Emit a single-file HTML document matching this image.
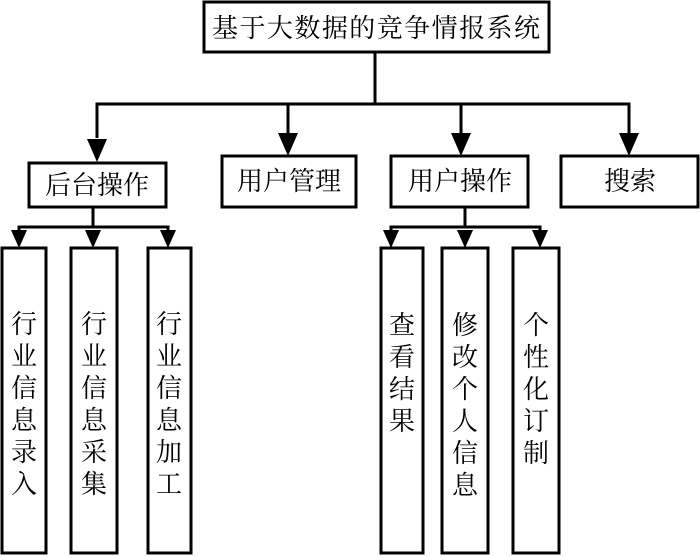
<!DOCTYPE html>
<html><head><meta charset="utf-8"><style>
html,body{margin:0;padding:0;background:#fff;}
svg{display:block}
text{font-family:"Liberation Serif","Noto Serif CJK SC",serif;font-size:26px;fill:#000;}
</style></head><body>
<svg width="700" height="556" viewBox="0 0 700 556" xmlns="http://www.w3.org/2000/svg">
<g fill="none" stroke="#000" stroke-width="3">
<rect x="204" y="2" width="345" height="50"/>
<line x1="375" y1="52" x2="375" y2="104"/>
<polyline points="97,138 97,104 629,104 629,134"/>
<line x1="288" y1="104" x2="288" y2="134"/>
<line x1="461" y1="104" x2="461" y2="134"/>
<rect x="29" y="163" width="137" height="44"/>
<rect x="222" y="156" width="134" height="51"/>
<rect x="391" y="156" width="137" height="51"/>
<rect x="561" y="156" width="137" height="51"/>
<line x1="93" y1="207" x2="93" y2="227"/>
<polyline points="19,232 19,227 168,227 168,232"/>
<line x1="465" y1="207" x2="465" y2="227"/>
<polyline points="391,232 391,227 540,227 540,232"/>
<rect x="2" y="248" width="44" height="305"/>
<rect x="71" y="248" width="46" height="305"/>
<rect x="148" y="248" width="43" height="305"/>
<rect x="381" y="248" width="42" height="305"/>
<rect x="442" y="248" width="46" height="305"/>
<rect x="513" y="248" width="46" height="305"/>
</g>
<g fill="#000">
<polygon points="87,139 107,139 97,162"/>
<polygon points="278,133 298,133 288,156"/>
<polygon points="451,133 471,133 461,156"/>
<polygon points="619,133 639,133 629,156"/>
<polygon points="11,230 27,230 19,248"/>
<polygon points="85,230 101,230 93,248"/>
<polygon points="160,230 176,230 168,248"/>
<polygon points="383,230 399,230 391,248"/>
<polygon points="457,230 473,230 465,248"/>
<polygon points="532,230 548,230 540,248"/>
</g>
<g text-anchor="middle">
<text x="376" y="37" textLength="328" lengthAdjust="spacing">基于大数据的竞争情报系统</text>
<text x="97" y="194">后台操作</text>
<text x="289" y="190">用户管理</text>
<text x="460" y="190">用户操作</text>
<text x="630" y="190">搜索</text>
</g>
<g text-anchor="middle">
<text x="24" y="333">行</text><text x="24" y="365">业</text><text x="24" y="397">信</text><text x="24" y="429">息</text><text x="24" y="461">录</text><text x="24" y="493">入</text>
<text x="94" y="333">行</text><text x="94" y="365">业</text><text x="94" y="397">信</text><text x="94" y="429">息</text><text x="94" y="461">采</text><text x="94" y="493">集</text>
<text x="169" y="333">行</text><text x="169" y="365">业</text><text x="169" y="397">信</text><text x="169" y="429">息</text><text x="169" y="461">加</text><text x="169" y="493">工</text>
<text x="402" y="334">查</text><text x="402" y="366">看</text><text x="402" y="398">结</text><text x="402" y="430">果</text>
<text x="465" y="334">修</text><text x="465" y="366">改</text><text x="465" y="398">个</text><text x="465" y="430">人</text><text x="465" y="462">信</text><text x="465" y="494">息</text>
<text x="536" y="334">个</text><text x="536" y="366">性</text><text x="536" y="398">化</text><text x="536" y="430">订</text><text x="536" y="462">制</text>
</g>
</svg>
</body></html>
